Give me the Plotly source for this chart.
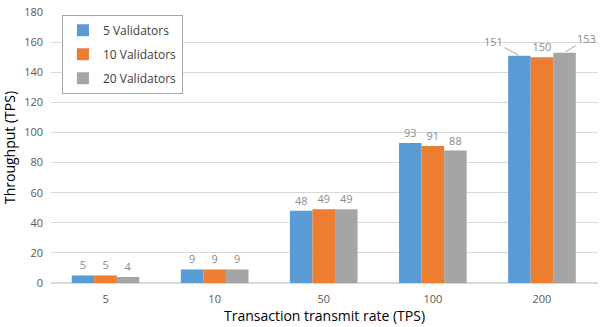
import plotly.graph_objects as go

categories = ["5", "10", "50", "100", "200"]
series_names = ["5 Validators", "10 Validators", "20 Validators"]
v5 = [5, 9, 48, 93, 151]
v10 = [5, 9, 49, 91, 150]
v20 = [4, 9, 49, 88, 153]
colors = ["#5B9BD5", "#ED7D31", "#A5A5A5"]

BARGAP = 0.38
# labels drawn with leader lines: (series index, category index, ax, ay)
leader_labels = [(0, 4, -26, -14), (2, 4, 22, -14)]

fig = go.Figure()
all_vals = [v5, v10, v20]
for si, (name, vals, c) in enumerate(zip(series_names, all_vals, colors)):
    texts = []
    for ci, v in enumerate(vals):
        if any(s == si and k == ci for s, k, _, _ in leader_labels):
            texts.append("")
        else:
            texts.append(str(v))
    fig.add_trace(go.Bar(
        x=categories, y=vals, name=name, legendgroup=name,
        marker=dict(color=c, line=dict(width=0)),
        text=texts, textposition="outside",
        textfont=dict(size=11, color="#8c8c8c", family="Open Sans"),
        cliponaxis=False,
    ))

bw = (1 - BARGAP) / len(series_names)
for si, ci, ax, ay in leader_labels:
    offset = (si - (len(series_names) - 1) / 2) * bw
    fig.add_annotation(
        x=ci + offset, y=all_vals[si][ci], xref="x", yref="y",
        text=str(all_vals[si][ci]), showarrow=True, arrowhead=0, arrowwidth=1,
        arrowcolor="#a6a6a6", ax=ax, ay=ay, standoff=1,
        font=dict(size=11, color="#8c8c8c", family="Open Sans"),
    )

fig.update_layout(
    width=600, height=327,
    margin=dict(l=51, r=2, t=12, b=44),
    paper_bgcolor="white", plot_bgcolor="white",
    barmode="group", bargap=BARGAP, bargroupgap=0,
    font=dict(family="Open Sans", size=11, color="#595959"),
    showlegend=True,
    legend=dict(
        x=0.02, y=0.99, xanchor="left", yanchor="top",
        bgcolor="white", bordercolor="#a6a6a6", borderwidth=1,
        font=dict(size=12, color="#404040"),
        itemwidth=30, tracegroupgap=5,
    ),
    xaxis=dict(
        title=dict(text="Transaction transmit rate (TPS)", font=dict(size=14, color="#000000"), standoff=2),
        showline=True, linecolor="#d9d9d9", linewidth=1,
        tickfont=dict(size=11, color="#595959"), ticks="", automargin=False,
        ticklabelstandoff=6,
    ),
    yaxis=dict(
        title=dict(text="Throughput (TPS)", font=dict(size=14, color="#000000"), standoff=6),
        range=[0, 180], dtick=20, showgrid=True, gridcolor="#d9d9d9",
        zeroline=True, zerolinecolor="#d9d9d9", showline=False,
        tickfont=dict(size=11, color="#595959"), automargin=False,
        ticklabelstandoff=7,
    ),
)

fig.write_html("out.html", post_script="document.body.style.margin='0';",
               config={"displayModeBar": False})
